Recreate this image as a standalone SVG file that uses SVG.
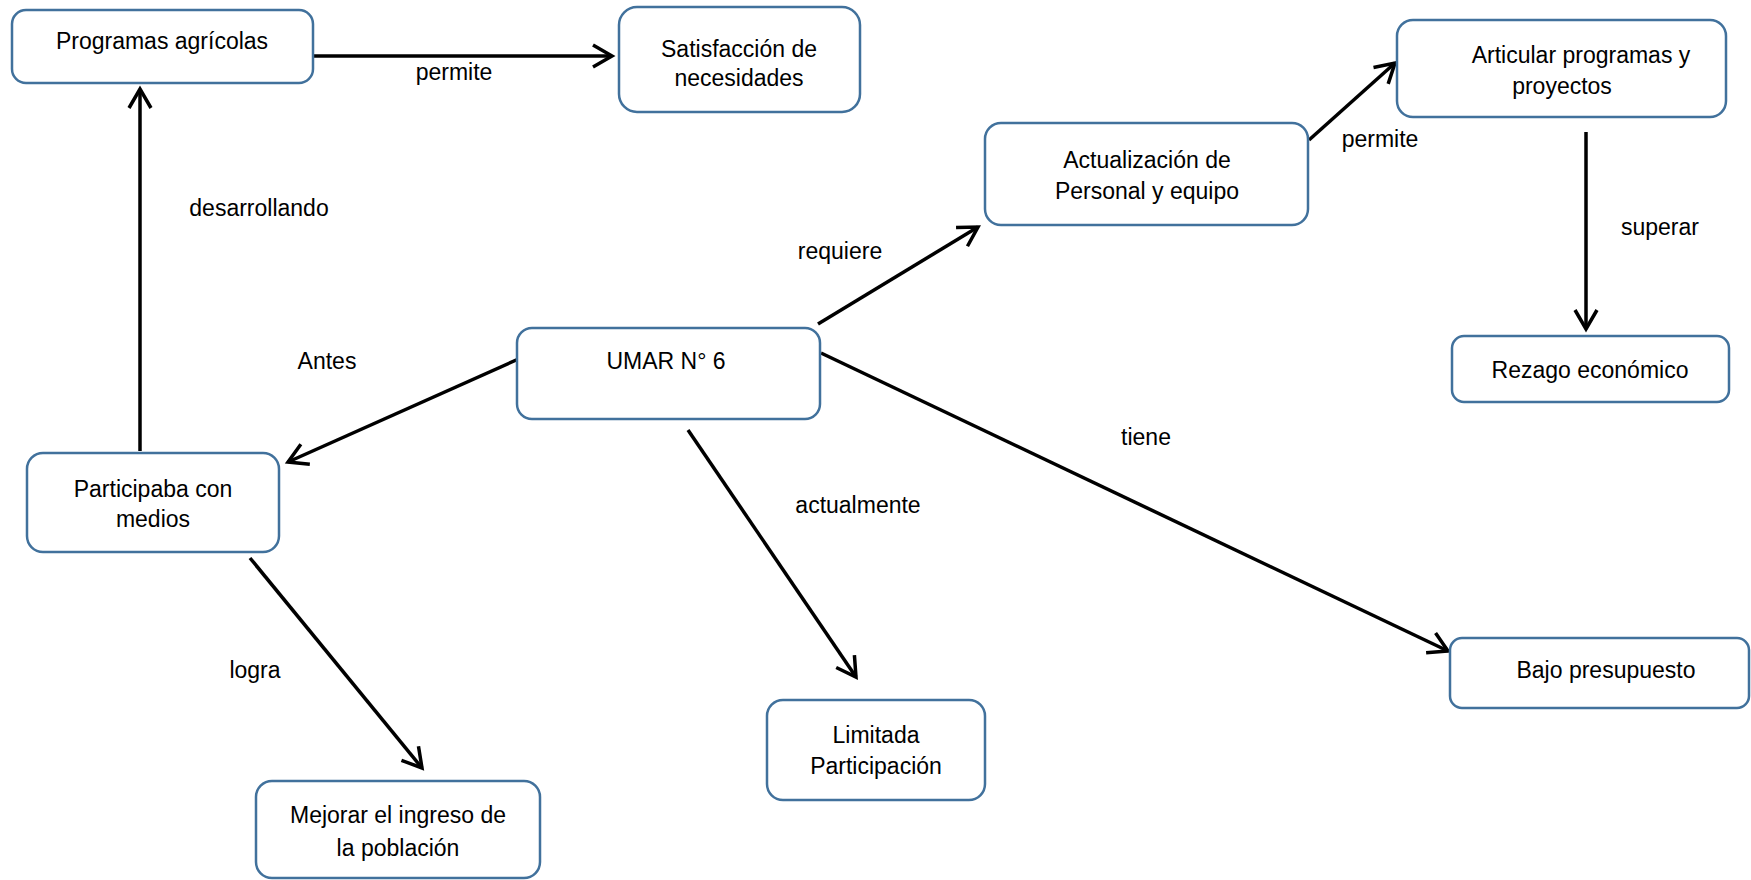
<svg xmlns="http://www.w3.org/2000/svg" width="1751" height="880" viewBox="0 0 1751 880">
<style>
.box{fill:#fff;stroke:#41719C;stroke-width:2.5}
.t{font-family:"Liberation Sans",Arial,sans-serif;font-size:23px;fill:#000;text-anchor:middle}
.c{stroke:#000;stroke-width:3.5;fill:none}
</style>
<defs>
<marker id="ah" markerUnits="userSpaceOnUse" markerWidth="26" markerHeight="28" refX="21" refY="14" orient="auto">
<path d="M2,3 L21,14 L2,25" fill="none" stroke="#000" stroke-width="3.5" stroke-linejoin="miter"/>
</marker>
</defs>
<rect width="1751" height="880" fill="#fff"/>
<g id="connectors">
<line class="c" x1="309" y1="56" x2="612" y2="56" marker-end="url(#ah)"/>
<line class="c" x1="140" y1="451" x2="140" y2="89" marker-end="url(#ah)"/>
<line class="c" x1="523" y1="357" x2="288" y2="462" marker-end="url(#ah)"/>
<line class="c" x1="250" y1="558" x2="422" y2="768" marker-end="url(#ah)"/>
<line class="c" x1="688" y1="430" x2="856" y2="677" marker-end="url(#ah)"/>
<line class="c" x1="818" y1="324" x2="978" y2="227" marker-end="url(#ah)"/>
<line class="c" x1="1309" y1="140" x2="1395" y2="63" marker-end="url(#ah)"/>
<line class="c" x1="1586" y1="132" x2="1586" y2="329" marker-end="url(#ah)"/>
<line class="c" x1="821" y1="353" x2="1448" y2="651" marker-end="url(#ah)"/>
<text class="t" x="454" y="80">permite</text>
<text class="t" x="259" y="216">desarrollando</text>
<text class="t" x="327" y="369">Antes</text>
<text class="t" x="255" y="678">logra</text>
<text class="t" x="858" y="513">actualmente</text>
<text class="t" x="840" y="259">requiere</text>
<text class="t" x="1380" y="147">permite</text>
<text class="t" x="1660" y="235">superar</text>
<text class="t" x="1146" y="445">tiene</text>
</g>
<g id="programas">
<rect class="box" x="12" y="10" width="301" height="73" rx="14"/>
<text class="t" x="162" y="49">Programas agrícolas</text>
</g>
<g id="satisfaccion">
<rect class="box" x="619" y="7" width="241" height="105" rx="18"/>
<text class="t" x="739" y="57">Satisfacción de</text>
<text class="t" x="739" y="86">necesidades</text>
</g>
<g id="actualizacion">
<rect class="box" x="985" y="123" width="323" height="102" rx="16"/>
<text class="t" x="1147" y="168">Actualización de</text>
<text class="t" x="1147" y="199">Personal y equipo</text>
</g>
<g id="articular">
<rect class="box" x="1397" y="20" width="329" height="97" rx="16"/>
<text class="t" x="1581" y="63">Articular programas y</text>
<text class="t" x="1562" y="94">proyectos</text>
</g>
<g id="rezago">
<rect class="box" x="1452" y="336" width="277" height="66" rx="12"/>
<text class="t" x="1590" y="378">Rezago económico</text>
</g>
<g id="umar">
<rect class="box" x="517" y="328" width="303" height="91" rx="15"/>
<text class="t" x="666" y="369">UMAR N° 6</text>
</g>
<g id="participaba">
<rect class="box" x="27" y="453" width="252" height="99" rx="16"/>
<text class="t" x="153" y="497">Participaba con</text>
<text class="t" x="153" y="527">medios</text>
</g>
<g id="mejorar">
<rect class="box" x="256" y="781" width="284" height="97" rx="16"/>
<text class="t" x="398" y="823">Mejorar el ingreso de</text>
<text class="t" x="398" y="856">la población</text>
</g>
<g id="limitada">
<rect class="box" x="767" y="700" width="218" height="100" rx="16"/>
<text class="t" x="876" y="743">Limitada</text>
<text class="t" x="876" y="774">Participación</text>
</g>
<g id="bajo">
<rect class="box" x="1450" y="638" width="299" height="70" rx="12"/>
<text class="t" x="1606" y="678">Bajo presupuesto</text>
</g>
</svg>
